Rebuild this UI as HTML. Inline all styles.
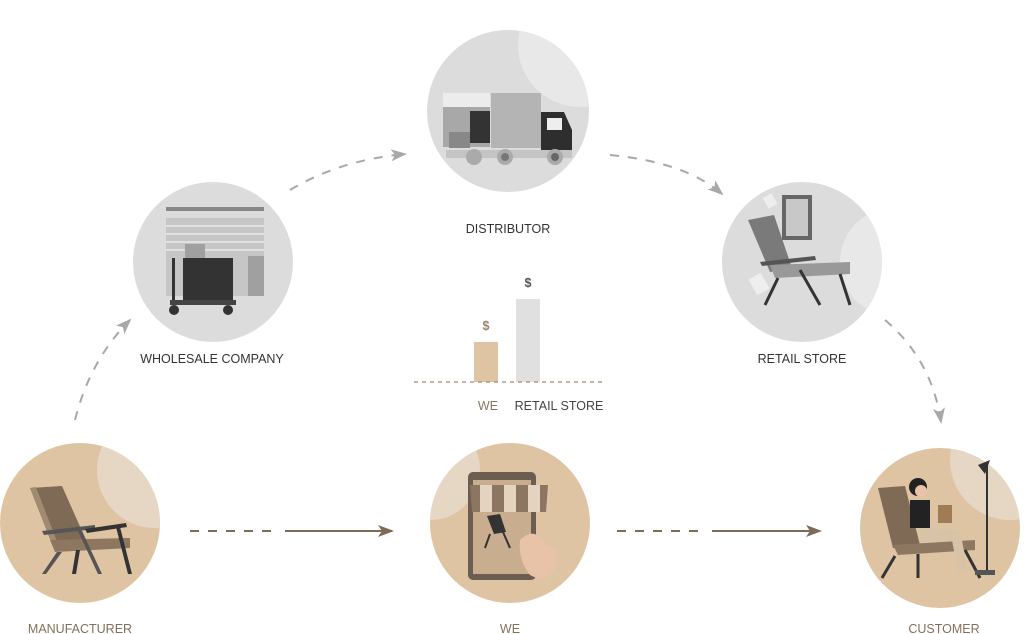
<!DOCTYPE html>
<html><head><meta charset="utf-8"><style>
html,body{margin:0;padding:0;background:#fff;}
svg{display:block}
text{font-family:"Liberation Sans",sans-serif;font-size:12.5px;}
</style></head><body>
<svg width="1024" height="634" viewBox="0 0 1024 634" xmlns="http://www.w3.org/2000/svg">
<defs>
<marker id="ab" markerWidth="16" markerHeight="12" refX="14" refY="6" orient="auto" markerUnits="userSpaceOnUse"><path d="M0,0 L16,6 L0,12 L4,6 Z" fill="#7d6b58"/></marker>
<marker id="ag" markerWidth="16" markerHeight="12" refX="14" refY="6" orient="auto" markerUnits="userSpaceOnUse"><path d="M0,0 L16,6 L0,12 L4,6 Z" fill="#a8a8a8"/></marker>
<clipPath id="c1"><circle cx="80" cy="523" r="80"/></clipPath>
<clipPath id="c2"><circle cx="510" cy="523" r="80"/></clipPath>
<clipPath id="c3"><circle cx="940" cy="528" r="80"/></clipPath>
<clipPath id="c4"><circle cx="213" cy="262" r="80"/></clipPath>
<clipPath id="c5"><circle cx="508" cy="111" r="81"/></clipPath>
<clipPath id="c6"><circle cx="802" cy="262" r="80"/></clipPath>
</defs>

<circle cx="80" cy="523" r="80" fill="#dfc4a4"/>
<circle cx="155" cy="470" r="58" fill="#e6d6c4" clip-path="url(#c1)"/>
<circle cx="510" cy="523" r="80" fill="#dfc4a4"/>
<circle cx="430" cy="470" r="50" fill="#e6d6c4" clip-path="url(#c2)"/>
<circle cx="940" cy="528" r="80" fill="#dfc4a4"/>
<circle cx="1010" cy="460" r="60" fill="#e6d6c4" clip-path="url(#c3)"/>

<circle cx="213" cy="262" r="80" fill="#dcdcdc"/>
<circle cx="508" cy="111" r="81" fill="#dcdcdc"/>
<circle cx="580" cy="45" r="62" fill="#e8e8e8" clip-path="url(#c5)"/>
<circle cx="802" cy="262" r="80" fill="#dcdcdc"/>
<circle cx="895" cy="262" r="55" fill="#e8e8e8" clip-path="url(#c6)"/>

<g>
<path d="M30,488 L62,486 L86,540 L52,544 Z" fill="#7f6a55"/>
<path d="M30,488 L36,487 L58,544 L52,544 Z" fill="#a08a72"/>
<path d="M50,540 L130,538 L130,548 L55,552 Z" fill="#8d7760"/>
<path d="M42,531 L95,525 L95,529 L44,535 Z" fill="#565656"/>
<path d="M85,529 L126,523 L127,527 L87,533 Z" fill="#333"/>
<path d="M57,552 L42,574 L46,574 L62,552 Z" fill="#555"/>
<path d="M76,550 L72,574 L76,574 L80,550 Z" fill="#333"/>
<path d="M78,531 L98,574 L102,574 L82,531 Z" fill="#555"/>
<path d="M116,527 L128,574 L132,574 L120,527 Z" fill="#333"/>
</g>

<g>
<rect x="468" y="472" width="68" height="108" rx="5" fill="#6b5d50"/>
<rect x="473" y="480" width="58" height="94" fill="#c9ad8f"/>
<path d="M470,485 L548,485 L546,512 L472,512 Z" fill="#8c7661"/>
<path d="M480,485 L492,485 L492,512 L480,512 Z M504,485 L516,485 L516,512 L504,512 Z M528,485 L540,485 L540,512 L528,512 Z" fill="#e4d3bf"/>
<path d="M487,516 L500,514 L506,532 L494,534 Z" fill="#333"/>
<path d="M490,534 L485,548 M503,532 L510,548" stroke="#333" stroke-width="2"/>
<path d="M520,540 Q535,525 545,545 Q560,548 556,565 Q548,585 530,575 Q518,560 520,540 Z" fill="#e8c3a8"/>
</g>

<g>
<path d="M878,488 L905,486 L920,545 L893,548 Z" fill="#7f6a55"/>
<path d="M893,545 L975,540 L975,550 L898,555 Z" fill="#8d7760"/>
<path d="M895,556 L882,578 M918,554 L918,578 M965,550 L980,578" stroke="#333" stroke-width="3"/>
<circle cx="918" cy="487" r="9" fill="#222"/>
<circle cx="921" cy="491" r="6" fill="#e8c3a8"/>
<rect x="910" y="500" width="20" height="28" fill="#222"/>
<path d="M920,528 L960,530 L968,572 L958,572 L952,540 L920,542 Z" fill="#d9c3a6"/>
<rect x="938" y="505" width="14" height="18" fill="#a07c56"/>
<path d="M978,465 L990,460 L985,474 Z" fill="#333"/>
<path d="M987,462 L987,575" stroke="#333" stroke-width="2"/>
<rect x="975" y="570" width="20" height="5" fill="#555"/>
</g>

<g>
<rect x="166" y="207" width="98" height="4" fill="#888"/>
<rect x="166" y="218" width="98" height="78" fill="#c6c6c6"/>
<path d="M166,226 H264 M166,234 H264 M166,242 H264 M166,250 H264" stroke="#e0e0e0" stroke-width="2"/>
<rect x="248" y="256" width="16" height="40" fill="#a0a0a0"/>
<rect x="185" y="244" width="20" height="14" fill="#a0a0a0"/>
<rect x="183" y="258" width="50" height="42" fill="#333"/>
<rect x="172" y="258" width="3" height="45" fill="#333"/>
<rect x="170" y="300" width="66" height="5" fill="#444"/>
<circle cx="174" cy="310" r="5" fill="#333"/><circle cx="228" cy="310" r="5" fill="#333"/>
</g>

<g>
<rect x="443" y="93" width="47" height="14" fill="#ececec"/>
<rect x="443" y="107" width="47" height="40" fill="#a8a8a8"/>
<rect x="491" y="93" width="50" height="55" fill="#b4b4b4"/>
<rect x="470" y="111" width="20" height="32" fill="#333"/>
<rect x="449" y="132" width="21" height="16" fill="#888"/>
<path d="M541,112 L564,112 L572,130 L572,150 L541,150 Z" fill="#2e2e2e"/>
<rect x="547" y="118" width="15" height="12" fill="#eee"/>
<rect x="446" y="150" width="126" height="8" fill="#c4c4c4"/>
<circle cx="474" cy="157" r="8" fill="#aaa"/><circle cx="505" cy="157" r="8" fill="#aaa"/><circle cx="555" cy="157" r="8" fill="#aaa"/>
<circle cx="505" cy="157" r="4" fill="#777"/><circle cx="555" cy="157" r="4" fill="#666"/>
</g>

<g>
<rect x="782" y="195" width="30" height="45" fill="#666"/>
<rect x="786" y="199" width="22" height="37" fill="#c8c8c8"/>
<path d="M748,220 L774,215 L792,268 L770,272 Z" fill="#7a7a7a"/>
<path d="M770,265 L850,262 L850,274 L775,278 Z" fill="#999"/>
<path d="M760,262 L815,256 L816,260 L762,266 Z" fill="#555"/>
<path d="M778,278 L765,305 M800,270 L820,305 M840,274 L850,305" stroke="#333" stroke-width="3"/>
<rect x="752" y="275" width="14" height="18" fill="#eee" transform="rotate(-30 759 284)"/>
<rect x="765" y="195" width="10" height="12" fill="#eee" transform="rotate(-30 770 201)"/>
</g>

<!-- arrows -->
<path d="M190,531 H280" stroke="#7d6b58" stroke-width="2" fill="none" stroke-dasharray="9,9"/>
<path d="M285,531 H392" stroke="#7d6b58" stroke-width="2" fill="none" marker-end="url(#ab)"/>
<path d="M617,531 H705" stroke="#7d6b58" stroke-width="2" fill="none" stroke-dasharray="9,9"/>
<path d="M712,531 H820" stroke="#7d6b58" stroke-width="2" fill="none" marker-end="url(#ab)"/>
<path d="M75,420 Q90,360 130,320" stroke="#a8a8a8" stroke-width="2" fill="none" stroke-dasharray="9,9" marker-end="url(#ag)"/>
<path d="M290,190 Q340,160 405,154" stroke="#a8a8a8" stroke-width="2" fill="none" stroke-dasharray="9,9" marker-end="url(#ag)"/>
<path d="M610,155 Q685,162 722,194" stroke="#a8a8a8" stroke-width="2" fill="none" stroke-dasharray="9,9" marker-end="url(#ag)"/>
<path d="M885,320 Q932,360 941,422" stroke="#a8a8a8" stroke-width="2" fill="none" stroke-dasharray="9,9" marker-end="url(#ag)"/>

<rect x="474" y="342" width="24" height="40" fill="#dfc4a4"/>
<rect x="516" y="299" width="24" height="83" fill="#e0e0e0"/>
<line x1="414" y1="382" x2="602" y2="382" stroke="#a08a72" stroke-width="1.2" stroke-dasharray="4,4"/>
<text x="486" y="330" text-anchor="middle" fill="#9a8268" font-size="13" font-weight="bold">$</text>
<text x="528" y="287" text-anchor="middle" fill="#555" font-size="13" font-weight="bold">$</text>
<text x="488" y="410" text-anchor="middle" fill="#8a7660">WE</text>
<text x="559" y="410" text-anchor="middle" fill="#444">RETAIL STORE</text>

<text x="212" y="363" text-anchor="middle" fill="#333">WHOLESALE COMPANY</text>
<text x="508" y="233" text-anchor="middle" fill="#333">DISTRIBUTOR</text>
<text x="802" y="363" text-anchor="middle" fill="#333">RETAIL STORE</text>
<text x="80" y="633" text-anchor="middle" fill="#84705a">MANUFACTURER</text>
<text x="510" y="633" text-anchor="middle" fill="#84705a">WE</text>
<text x="944" y="633" text-anchor="middle" fill="#84705a">CUSTOMER</text>
</svg>
</body></html>
